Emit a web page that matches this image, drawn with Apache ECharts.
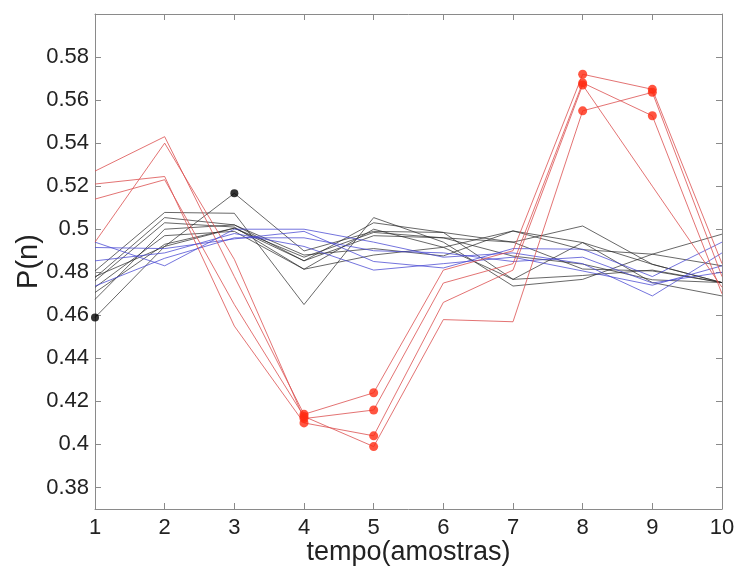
<!DOCTYPE html>
<html>
<head>
<meta charset="utf-8">
<script src="https://cdn.jsdelivr.net/npm/echarts@6/dist/echarts.min.js"></script>
<style>
html,body{margin:0;padding:0;background:#fff;}
#c{width:734px;height:571px;}
</style>
</head>
<body>
<div id="c"></div>
<script>
// ---- data ----
var xValues = [1, 2, 3, 4, 5, 6, 7, 8, 9, 10];
var yTicks = [0.38, 0.40, 0.42, 0.44, 0.46, 0.48, 0.50, 0.52, 0.54, 0.56, 0.58];

var red1 = [0.527, 0.543, 0.478, 0.414, 0.424, 0.481, 0.490, 0.572, 0.565, 0.484];
var red2 = [0.494, 0.540, 0.486, 0.412, 0.416, 0.475, 0.484, 0.568, 0.5527, 0.470];
var red3 = [0.521, 0.5245, 0.455, 0.410, 0.404, 0.466, 0.481, 0.567, 0.520, 0.473];
var red4 = [0.514, 0.523, 0.465, 0.413, 0.399, 0.458, 0.457, 0.555, 0.5636, 0.478];
var redDots1 = [3, 4, 7, 8];
var redDots2 = [3, 4, 7, 8];
var redDots3 = [3, 4, 7];
var redDots4 = [3, 4, 7, 8];

var blue1 = [0.494, 0.483, 0.500, 0.500, 0.494, 0.487, 0.489, 0.484, 0.469, 0.489];
var blue2 = [0.4915, 0.491, 0.4955, 0.499, 0.485, 0.482, 0.491, 0.4907, 0.478, 0.494];
var blue3 = [0.4853, 0.489, 0.498, 0.492, 0.481, 0.484, 0.487, 0.4806, 0.474, 0.483];
var blue4 = [0.4736, 0.4865, 0.496, 0.496, 0.490, 0.489, 0.485, 0.487, 0.475, 0.480];

var black1 = [0.459, 0.492, 0.5167, 0.4899, 0.499, 0.4985, 0.4767, 0.4938, 0.4837, 0.4752];
var black2 = [0.4806, 0.5078, 0.5074, 0.465, 0.5054, 0.494, 0.4736, 0.4767, 0.4884, 0.4977];
var black3 = [0.4775, 0.5054, 0.502, 0.4853, 0.503, 0.4985, 0.494, 0.4815, 0.4806, 0.4752];
var black4 = [0.476, 0.503, 0.501, 0.4814, 0.500, 0.4916, 0.4992, 0.4938, 0.4752, 0.469];
var black5 = [0.4706, 0.493, 0.5005, 0.4853, 0.497, 0.496, 0.494, 0.5015, 0.4837, 0.4752];
var black6 = [0.4674, 0.500, 0.502, 0.488, 0.491, 0.4876, 0.4992, 0.4905, 0.4884, 0.483];
var black7 = [0.473, 0.497, 0.499, 0.4814, 0.488, 0.4916, 0.4767, 0.4785, 0.481, 0.4752];
var black8 = [0.478, 0.492, 0.5005, 0.487, 0.4985, 0.496, 0.4875, 0.4838, 0.4765, 0.4752];
var blackDots1 = [0, 2];

// ---- build ----
var FONT = 'Liberation Sans, Arial, Helvetica, sans-serif';
function pts(vals){ return xValues.map(function(x,i){ return [x, vals[i]]; }); }
function dotPts(vals, idx){ return idx.map(function(i){ return [xValues[i], vals[i]]; }); }
function line(vals, color, w){
  return {type:'line', data:pts(vals), symbol:'none', silent:true, animation:false,
          lineStyle:{color:color, width:w}, z:2};
}
function dots(vals, idx, color, size){
  return {type:'scatter', data:dotPts(vals, idx), symbol:'circle', symbolSize:size,
          itemStyle:{color:color}, silent:true, animation:false, z:5};
}
var BLACK = 'rgba(40,40,40,0.7)';
var BLUE = 'rgba(70,70,210,0.75)';
var RED = 'rgba(220,80,80,0.8)';
var DOTRED = '#ff2a12';

var series = [];
[black1,black2,black3,black4,black5,black6,black7,black8].forEach(function(v){ series.push(line(v, BLACK, 1)); });
[blue1,blue2,blue3,blue4].forEach(function(v){ series.push(line(v, BLUE, 1)); });
[red1,red2,red3,red4].forEach(function(v){ series.push(line(v, RED, 1)); });
series.push(dots(red1, redDots1, DOTRED, 9));
series.push(dots(red2, redDots2, DOTRED, 9));
series.push(dots(red3, redDots3, DOTRED, 9));
series.push(dots(red4, redDots4, DOTRED, 9));
series.push(dots(black1, blackDots1, '#000', 8));

var AX = '#8a8a8a';
function fmt(v){ return String(parseFloat(Number(v).toFixed(2))); }

var chart = echarts.init(document.getElementById('c'), null, {renderer:'canvas'});
chart.setOption({
  backgroundColor:'#fff',
  animation:false,
  grid:{left:95, right:12, top:14, bottom:62, show:false, containLabel:false, outerBoundsMode:'none'},
  xAxis:[{
    type:'value', min:1, max:10, interval:1,
    name:'tempo(amostras)', nameLocation:'middle', nameGap:30, nameMoveOverlap:false,
    nameTextStyle:{fontFamily:FONT, fontSize:27, color:'#222'},
    axisLine:{show:true, onZero:false, lineStyle:{color:AX, width:1}},
    axisTick:{show:true, inside:true, length:6, lineStyle:{color:AX}},
    axisLabel:{fontFamily:FONT, fontSize:22, color:'#222', margin:8},
    splitLine:{show:false}
  },{
    type:'value', min:1, max:10, interval:1, position:'top',
    axisLine:{show:true, onZero:false, lineStyle:{color:AX, width:1}},
    axisTick:{show:true, inside:true, length:6, lineStyle:{color:AX}},
    axisLabel:{show:false}, splitLine:{show:false}
  }],
  yAxis:[{
    type:'value', min:0.37, max:0.6,
    name:'P(n)', nameLocation:'middle', nameGap:52, nameRotate:90, nameMoveOverlap:false,
    nameTextStyle:{fontFamily:FONT, fontSize:29, color:'#222'},
    axisLine:{show:true, onZero:false, lineStyle:{color:AX, width:1}},
    axisTick:{show:true, inside:true, length:6, lineStyle:{color:AX}, customValues:yTicks},
    axisLabel:{fontFamily:FONT, fontSize:22, color:'#222', margin:6, customValues:yTicks,
               formatter:function(v){ return fmt(v); }},
    splitLine:{show:false}
  },{
    type:'value', min:0.37, max:0.6, position:'right',
    axisLine:{show:true, onZero:false, lineStyle:{color:AX, width:1}},
    axisTick:{show:true, inside:true, length:6, lineStyle:{color:AX}, customValues:yTicks},
    axisLabel:{show:false, customValues:yTicks}, splitLine:{show:false}
  }],
  series:series
});
</script>
</body>
</html>
